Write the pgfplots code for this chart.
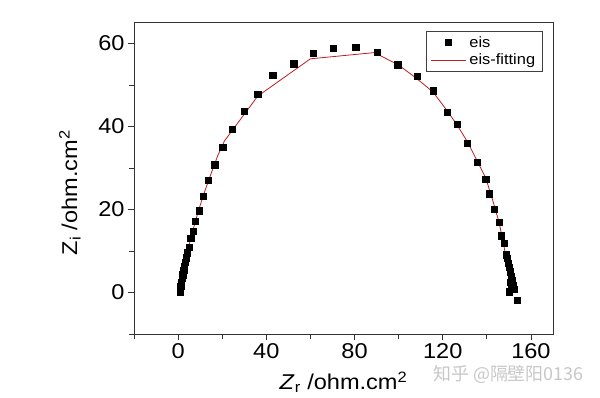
\documentclass[border=0pt]{standalone}
\usepackage{pgfplots}
\pgfplotsset{compat=1.18}
\usepackage{fontspec}
\setmainfont{Liberation Sans}[FakeStretch=1.1]
\newfontfamily\cjk{Noto Sans CJK SC}
\definecolor{fitred}{RGB}{190,30,35}
\begin{document}
\begin{tikzpicture}
\begin{axis}[
  scale only axis,
  width=419bp, height=311.3bp,
  xmin=-20, xmax=170, ymin=-10, ymax=65,
  xtick={0,40,...,160}, ytick={0,20,...,60},
  minor xtick={-20,20,60,100,140}, minor ytick={-10,10,30,50},
  tick align=outside,
  major tick length=6bp, minor tick length=5bp,
  xtick pos=bottom, ytick pos=left,
  axis line style={black!80, line width=0.8bp},
  every tick/.style={black!80, line width=0.8bp},
  tick label style={font=\fontsize{21.5}{25}\selectfont},
  /pgf/number format/assume math mode=true,
  xlabel={\textit{Z}\textsubscript{r} /ohm.cm\textsuperscript{2}},
  ylabel={Z\textsubscript{i} /ohm.cm\textsuperscript{2}},
  label style={font=\fontsize{21.5}{25}\selectfont},
  xlabel style={at={(axis description cs:0.5,-0.179)}, anchor=base},
  ylabel style={at={(axis description cs:-0.153,0.454)}, anchor=center, rotate=0},
  legend style={at={(axis description cs:0.975,0.972)}, anchor=north east,
    draw=black!75, line width=0.7bp, fill=white,
    font=\fontsize{15}{17}\selectfont, row sep=2.5bp, inner xsep=4bp, inner ysep=3bp,
    nodes={inner xsep=3bp, inner ysep=1.5bp},
    /tikz/every even column/.append style={column sep=5bp}},
  legend cell align=left,
]
\addplot[only marks, mark=square*, mark size=3.1bp, black,
  legend image code/.code={\fill[black] (17.5bp-3.1bp,-3.1bp) rectangle (17.5bp+3.1bp,3.1bp);}] coordinates {
(0.8,0.2) (1.0,0.8) (1.2,1.6) (1.5,2.5) (1.8,3.4) (2.1,4.3) (2.5,5.3) (2.9,6.3)
(3.3,7.3) (3.8,8.4) (4.3,9.6) (5.0,11.0) (5.7,13.0) (6.7,14.8) (7.9,17.2)
(9.5,19.7) (11.5,23.2) (13.7,27.0) (16.6,30.8) (20.2,35.0) (24.4,39.3)
(29.9,43.7) (36.1,47.8) (42.9,52.3) (52.4,55.1) (61.1,57.7) (70.5,58.8)
(80.5,59.1) (90.2,57.9) (99.6,54.9) (108.3,52.1) (115.6,48.6) (122.0,43.5)
(126.7,40.5) (131.2,36.0) (135.7,31.4) (139.5,27.3) (141.2,23.8) (143.4,20.1)
(145.6,17.0) (146.5,13.7) (147.9,11.9) (148.6,9.1) (149.3,8.2) (149.8,7.1)
(150.1,6.0) (150.5,5.0) (150.9,4.0) (151.3,3.0) (150.6,2.4) (151.8,1.8)
(151.0,1.2) (152.5,0.8) (150.2,0.2) (153.6,-1.9)
};
\addlegendentry{eis}
\addplot[draw=fitred, line width=0.8bp, mark=none,
  legend image code/.code={\draw[fitred, line width=1.1bp] (0bp,0bp) -- (35bp,0bp);}] coordinates {
(0.6,0) (1.2,2) (2.0,4.5) (3.0,7) (4.2,10) (5.5,12.5) (7.0,15.5) (9.0,19.3)
(11.5,23.5) (14.5,28) (18.0,33) (21.0,36.5) (36.1,47.3) (60.0,56.3) (89.0,57.8)
(100,54.8) (108.3,51.5) (115.6,48.3) (122,43.8) (126.7,40.2) (131.2,36.3)
(135.7,31.6) (139.5,27.6) (142.5,22.5) (145.6,16.8) (147.8,11) (149.5,6.5)
(150.8,2) (151.3,0.5)
};
\addlegendentry{eis-fitting}
\end{axis}
\node[anchor=base west, text=black!22, font=\cjk\fontsize{18}{21}\selectfont, inner sep=0pt] at (299bp,-46bp) {知乎 @隔壁阳0136};
\pgfresetboundingbox
\path[use as bounding box] (-134bp,-64bp) rectangle (466bp,334bp);
\end{tikzpicture}
\end{document}
